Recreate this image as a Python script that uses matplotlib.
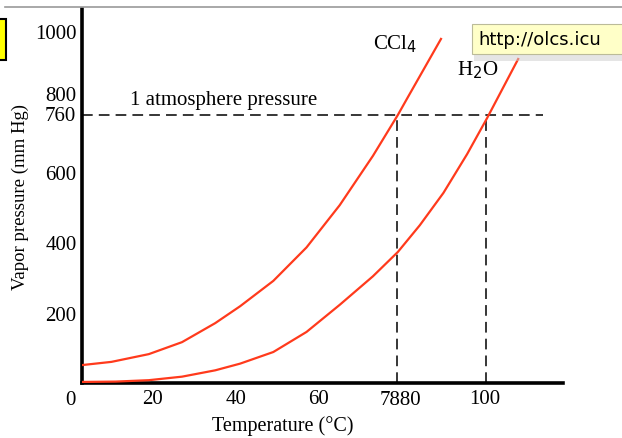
import matplotlib
matplotlib.use("Agg")
import matplotlib.pyplot as plt
from matplotlib.patches import Rectangle

# data
temp_ccl4 = [3, 10, 19, 27, 35, 41, 49, 57, 65, 73, 79, 81.2, 89.4]
pres_ccl4 = [51, 60, 82, 116, 170, 218, 290, 385, 505, 645, 761, 807, 977]

temp_h2o = [3, 11, 19, 27, 35, 41, 49, 57, 65, 73, 79, 84.3, 90, 95.7, 100.5, 108]
pres_h2o = [3, 4, 8, 18, 36, 55, 88, 145, 222, 303, 372, 448, 540, 650, 752, 920]

boil_points = [78.8, 100.3]
atm = 760

xticks = [20, 40, 60, 100]
yticks = [200, 400, 600, 1000]

serif = "Liberation Serif"
red = "#ff3a1c"
fs = 15

fig = plt.figure(figsize=(6.22, 4.39), dpi=100)
ax = fig.add_axes([82/622, 1 - 384/439, 481/622, 374/439])

ax.plot(temp_ccl4, pres_ccl4, color=red, lw=1.6, zorder=3, solid_joinstyle="round")
ax.plot(temp_h2o, pres_h2o, color=red, lw=1.6, zorder=3, solid_joinstyle="round")

ax.plot([2.9, 114], [atm, atm], color="black", lw=1.1, dashes=(7, 4), zorder=2)
for bp in boil_points:
    ax.plot([bp, bp], [0, atm], color="black", lw=1.1, dashes=(7, 4), zorder=2)

ax.set_xlim(2.9, 118.8)
ax.set_ylim(0, 1062)

for s in ["top", "right"]:
    ax.spines[s].set_visible(False)
ax.spines["left"].set_linewidth(2.6)
ax.spines["bottom"].set_linewidth(2.6)

ax.set_xticks(xticks)
ax.set_yticks(yticks)
ax.tick_params(length=0, pad=4, labelsize=fs)
for lab in ax.get_xticklabels() + ax.get_yticklabels():
    lab.set_family(serif)

# extra labels that sit off the regular ticks
ax.text(0, -20, "0", ha="center", va="top", fontsize=fs, family=serif, clip_on=False)
ax.text(79.7, -20, "7880", ha="center", va="top", fontsize=fs, family=serif, clip_on=False)
ax.text(1.5, 760, "760", ha="right", va="center", fontsize=fs, family=serif, clip_on=False)
ax.text(1.5, 815, "800", ha="right", va="center", fontsize=fs, family=serif, clip_on=False)

ax.set_xlabel("Temperature (\u00b0C)", family=serif, fontsize=14.5)
ax.xaxis.set_label_coords(0.418, -0.085)
ax.set_ylabel("Vapor pressure (mm Hg)", family=serif, fontsize=13.5, labelpad=4)

ax.text(14.5, 805, "1 atmosphere pressure", family=serif, fontsize=15, va="center")
ax.text(73, 966, "CCl$_4$", family=serif, fontsize=fs, va="center")
ax.text(93.3, 892, "H$_2$O", family=serif, fontsize=fs, va="center")

# screenshot leftovers: grey rule, yellow tab, tooltip
fig.add_artist(plt.Line2D([5/622, 1], [1 - 8/439, 1 - 8/439], color="#999999", lw=1.2))
fig.add_artist(Rectangle((-0.01, 1 - 61/439), 6/622 + 0.01, 41/439, facecolor="#ffff00",
                         edgecolor="black", lw=1.5, transform=fig.transFigure))
fig.add_artist(Rectangle((474/622, 1 - 62/439), 150/622, 36/439, facecolor="#cccccc",
                         edgecolor="none", alpha=0.5, transform=fig.transFigure))
fig.add_artist(Rectangle((472/622, 1 - 55/439), 152/622, 30/439, facecolor="#ffffc8",
                         edgecolor="#bbbb99", lw=0.8, transform=fig.transFigure))
fig.text(478/622, 1 - 40/439, "http://olcs.icu", family="DejaVu Sans", fontsize=13, va="center")

fig.savefig("out.png", dpi=100)
